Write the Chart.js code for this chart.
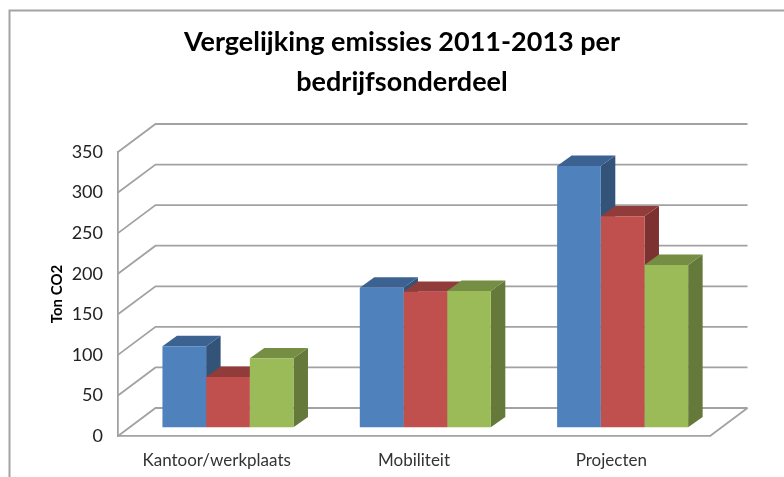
<!DOCTYPE html>
<html lang="nl">
<head>
  <meta charset="UTF-8" />
  <title>Vergelijking emissies</title>
  <script src="https://cdn.jsdelivr.net/npm/chart.js"></script>
  <style>
    html, body { margin: 0; padding: 0; background: #fff; }
    canvas { display: block; }
  </style>
</head>
<body>
  <canvas id="chart" width="784" height="477"></canvas>

  <script>
    const categories = ['Kantoor/werkplaats', 'Mobiliteit', 'Projecten'];
    const series2011 = [100, 172, 322];
    const series2012 = [62, 167, 260];
    const series2013 = [85, 168, 200];

    const frontColors = ['#4f81bd', '#c0504d', '#9bbb59'];
    const topColors = ['#3c6291', '#913c3a', '#758e44'];
    const sideColors = ['#345379', '#7d3231', '#65793a'];

    const gridColor = '#a2a2a2';
    const wall = { dx: 37.5, dy: 28 };      // back wall offset from front plane
    const barPlane = { dx: 11.3, dy: 8.7 }; // where the bars stand on the floor
    const barDepth = { dx: 14.5, dy: 10.4 };

    function poly(ctx, pts, color) {
      ctx.fillStyle = color;
      ctx.beginPath();
      pts.forEach((p, i) => i ? ctx.lineTo(p[0], p[1]) : ctx.moveTo(p[0], p[1]));
      ctx.closePath();
      ctx.fill();
    }

    const fake3d = {
      id: 'fake3d',
      beforeDraw(chart) {
        const ctx = chart.ctx;
        // frame of the pasted chart
        ctx.save();
        ctx.strokeStyle = '#a3a3a3';
        ctx.lineWidth = 2;
        ctx.beginPath();
        ctx.moveTo(9.5, chart.height);
        ctx.lineTo(9.5, 10.5);
        ctx.lineTo(chart.width, 10.5);
        ctx.stroke();
        ctx.restore();
      },
      afterLayout(chart) {
        // title sits centred on the whole picture, not on the plot
        const shift = 402 - (chart.titleBlock.left + chart.titleBlock.right) / 2;
        chart.titleBlock.left += shift;
        chart.titleBlock.right += shift;
      },
      beforeDatasetsDraw(chart) {
        const ctx = chart.ctx;
        const y = chart.scales.y;
        const a = chart.chartArea;

        // back wall + left wall gridlines
        ctx.save();
        ctx.strokeStyle = gridColor;
        ctx.lineWidth = 1.8;
        y.ticks.forEach(t => {
          const py = y.getPixelForValue(t.value);
          ctx.beginPath();
          ctx.moveTo(a.left, py);
          ctx.lineTo(a.left + wall.dx, py - wall.dy);
          ctx.lineTo(a.right + wall.dx, py - wall.dy);
          ctx.stroke();
        });
        // right edge of the floor
        ctx.beginPath();
        ctx.moveTo(a.right, a.bottom);
        ctx.lineTo(a.right + wall.dx, a.bottom - wall.dy);
        ctx.stroke();
        ctx.restore();

        // everything the bars draw stands a bit behind the front plane
        ctx.save();
        ctx.translate(barPlane.dx, -barPlane.dy);

        // tops and sides, left to right so the next bar covers the previous one
        const d = barDepth;
        categories.forEach((c, i) => {
          chart.data.datasets.forEach((ds, k) => {
            const bar = chart.getDatasetMeta(k).data[i];
            const { x, y: top, width, base } = bar.getProps(['x', 'y', 'width', 'base'], true);
            const l = x - width / 2, r = x + width / 2;
            poly(ctx, [[r, top], [r + d.dx, top - d.dy], [r + d.dx, base - d.dy], [r, base]], sideColors[k]);
            poly(ctx, [[l, top], [l + d.dx, top - d.dy], [r + d.dx, top - d.dy], [r, top]], topColors[k]);
          });
        });
      },
      afterDatasetsDraw(chart) {
        chart.ctx.restore();
      }
    };

    new Chart(document.getElementById('chart'), {
      type: 'bar',
      data: {
        labels: categories,
        datasets: [
          { label: '2011', data: series2011, backgroundColor: frontColors[0] },
          { label: '2012', data: series2012, backgroundColor: frontColors[1] },
          { label: '2013', data: series2013, backgroundColor: frontColors[2] }
        ]
      },
      options: {
        responsive: false,
        animation: false,
        clip: false,
        categoryPercentage: 0.664,
        barPercentage: 1,
        layout: { padding: { left: 0, right: 74, top: 0, bottom: 0 } },
        plugins: {
          legend: { display: false },
          tooltip: { enabled: false },
          title: {
            display: true,
            text: ['Vergelijking emissies 2011-2013 per', 'bedrijfsonderdeel'],
            color: '#000',
            font: { family: 'Lato', size: 27, weight: 'bold', lineHeight: '40px' },
            padding: { top: 22, bottom: 50 }
          }
        },
        scales: {
          x: {
            afterFit(s) { s.height = 41; },
            grid: { display: false, drawTicks: false },
            border: { display: true, color: gridColor, width: 1.8 },
            ticks: { color: '#333', padding: 14, maxRotation: 0, font: { family: 'Lato', size: 17 } }
          },
          y: {
            min: 0,
            max: 350,
            afterFit(s) { s.width = 118; },
            grid: { display: false, drawTicks: false },
            border: { display: true, color: gridColor, width: 1.8 },
            ticks: { stepSize: 50, color: '#222', padding: 15, font: { family: 'Lato', size: 18 } },
            title: {
              display: true,
              text: 'Ton CO2',
              color: '#000',
              font: { family: 'Lato', size: 15, weight: 'bold' },
              padding: { top: 48, bottom: 0 }
            }
          }
        }
      },
      plugins: [fake3d]
    });
  </script>
</body>
</html>
